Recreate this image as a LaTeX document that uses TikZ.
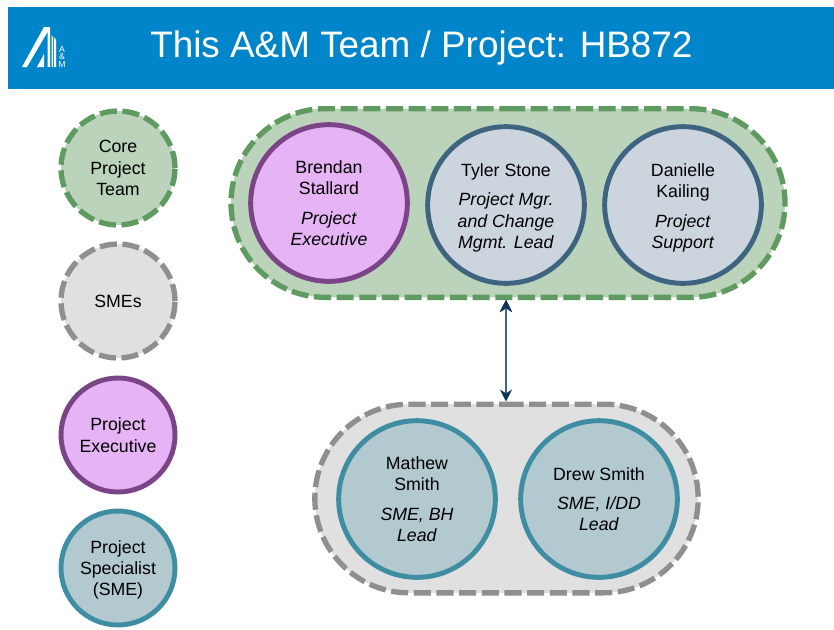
\documentclass[tikz,border=0pt]{standalone}
\usepackage{fontspec}
\setmainfont{Liberation Sans}
\usetikzlibrary{positioning,arrows.meta,shapes.misc}
\definecolor{banner}{HTML}{0085CA}
\definecolor{coregreen}{HTML}{BBD2BB}
\definecolor{coreline}{HTML}{5F9A60}
\definecolor{smegray}{HTML}{E0E0E0}
\definecolor{smeline}{HTML}{8F8F8F}
\definecolor{execfill}{HTML}{E6B3F5}
\definecolor{execline}{HTML}{7B4487}
\definecolor{teamfill}{HTML}{CCD5DE}
\definecolor{teamline}{HTML}{3F6480}
\definecolor{specfill}{HTML}{B2C9CF}
\definecolor{specline}{HTML}{3E8DA3}
\definecolor{arrowblue}{HTML}{0E3558}
\newcommand{\toppad}[1]{\rule{0pt}{#1}}
\begin{document}
\begin{tikzpicture}[x=0.75pt,y=-0.75pt,>={Stealth[length=9pt,width=9pt,color=arrowblue]},
  person/.style={circle,minimum size=117.5pt,inner sep=0pt,align=center,font=\fontsize{13.3}{16}\selectfont},
  legend/.style={circle,minimum size=85.5pt,inner sep=0pt,align=center,font=\fontsize{13.3}{16}\selectfont},
  coredash/.style={draw=coreline,fill=coregreen,line width=4pt,dash pattern=on 12.8pt off 4.2pt},
  smedash/.style={draw=smeline,fill=smegray,line width=4pt,dash pattern=on 12.8pt off 4.2pt},
  execstyle/.style={draw=execline,fill=execfill,line width=3.7pt},
  teamstyle/.style={draw=teamline,fill=teamfill,line width=3.7pt},
  specstyle/.style={draw=specline,fill=specfill,line width=3.7pt},
  pill/.style={rounded rectangle,inner sep=0pt,minimum height=141.5pt}]

    \useasboundingbox (0,0) rectangle (834,629);

    % The banner
    \node [fill=banner,minimum width=619.5pt,minimum height=61.5pt,inner sep=0pt] at (421,48) (banner) {};
    \node [text=white,font=\fontsize{27.65}{32}\selectfont,anchor=west,inner sep=0pt] at (150,48) (title) {This A\&M Team / Project: HB872};

    % The logo
    \fill[white] (22,67) -- (44,27) -- (50,27) -- (50,67) -- (47.5,67) -- (47.5,32) -- (27,67) -- cycle;
    \fill[white] (37,67) -- (44,54) -- (44,67) -- cycle;
    \fill[white] (51.5,35) -- (53,37) -- (53,67) -- (51.5,67) -- cycle;
    \fill[white] (54,37) -- (56,40) -- (56,67) -- (54,67) -- cycle;
    \node [text=white,font=\fontsize{6.5}{5.3}\selectfont,align=center,inner sep=0pt] at (62,57) (logotext) {A\\\&\\M};

    % The legend
    \node [legend,coredash] at (118,168) (corekey) {Core\\Project\\Team};
    \node [legend,smedash] at (118,301) (smekey) {SMEs};
    \node [legend,execstyle] at (118,435) (execkey) {Project\\Executive};
    \node [legend,specstyle] at (118,568) (speckey) {\toppad{12.7pt}Project\\Specialist\\(SME)};

    % The two groups
    \node [pill,coredash,minimum width=415.5pt] at (508,203) (core) {};
    \node [pill,smedash,minimum width=287.5pt] at (506.5,498.5) (smes) {};

    % The people
    \node [person,execstyle] at (329,203) (brendan) {Brendan\\Stallard\\[6pt]\textit{Project}\\\textit{Executive}};
    \node [person,teamstyle] at (506,205) (tyler) {\toppad{14.2pt}Tyler Stone\\[6pt]\textit{Project Mgr.}\\\textit{and Change}\\\textit{Mgmt. Lead}};
    \node [person,teamstyle] at (683,205) (danielle) {\toppad{14.2pt}Danielle\\Kailing\\[6pt]\textit{Project}\\\textit{Support}};
    \node [person,specstyle] at (417,499) (mathew) {Mathew\\Smith\\[6pt]\textit{SME, BH}\\\textit{Lead}};
    \node [person,specstyle] at (599,499) (drew) {Drew Smith\\[6pt]\textit{SME, I/DD}\\\textit{Lead}};

    % The link
    \path[<->,draw=teamline,line width=1.2pt]
    (core.south -| tyler) edge (smes.north -| tyler);
\end{tikzpicture}
\end{document}
